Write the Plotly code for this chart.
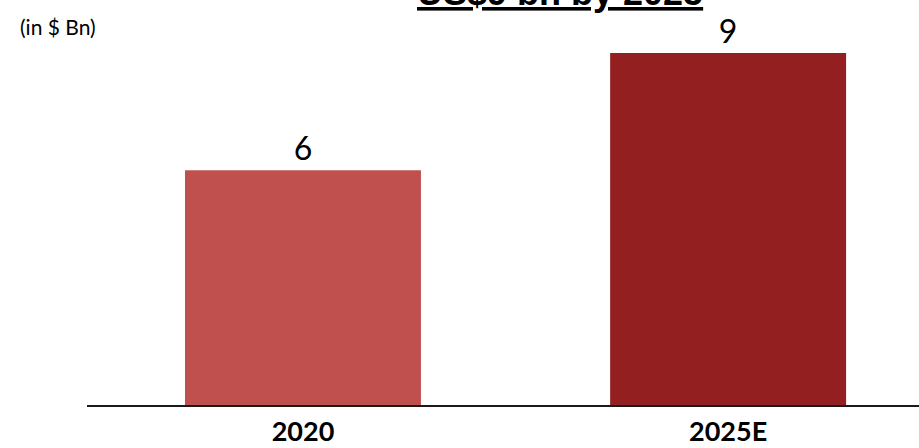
import plotly.graph_objects as go

categories = ["2020", "2025E"]
values = [6, 9]
bar_colors = ["#C0504D", "#941F21"]
title_text = "US$9 bn by 2025"
unit_text = "(in $ Bn)"

fig = go.Figure()
fig.add_trace(go.Bar(
    x=categories, y=values,
    marker=dict(color=bar_colors, line=dict(width=0)),
    text=[str(v) for v in values],
    textposition="outside",
    textfont=dict(family="Lato", size=32, color="#000000"),
    cliponaxis=False,
))

fig.update_layout(
    width=919, height=448,
    margin=dict(l=87, r=0, t=35, b=43),
    paper_bgcolor="white", plot_bgcolor="white",
    bargap=0.445,
    showlegend=False,
    xaxis=dict(
        range=[-0.508, 1.449],
        automargin=False,
        showline=True, linecolor="#1a1a1a", linewidth=2,
        showgrid=False, zeroline=False, ticks="",
        tickfont=dict(family="Lato", size=27, color="#000000", weight="bold"),
        ticklabelstandoff=2,
    ),
    yaxis=dict(
        range=[0, 9.46], visible=False, showgrid=False, zeroline=False,
        automargin=False,
    ),
    annotations=[
        dict(text="<b><u>" + title_text + "</u></b>", xref="paper", yref="paper",
             x=(560 - 87) / 832, y=(405 - 7) / 370, xanchor="center", yanchor="bottom",
             yshift=-8,
             showarrow=False, font=dict(family="Liberation Sans", size=36, color="#000000")),
        dict(text=unit_text, xref="paper", yref="paper",
             x=(18 - 87) / 832, y=(405 - 26) / 370, xanchor="left", yanchor="middle",
             showarrow=False, font=dict(family="Lato", size=21, color="#000000")),
    ],
)

fig.write_html("out.html")
